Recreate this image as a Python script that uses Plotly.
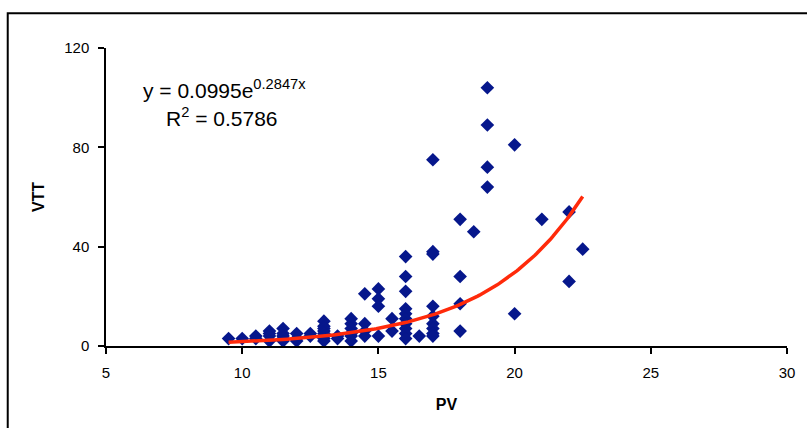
import numpy as np
import plotly.graph_objects as go

# PV / VTT observations
pv = [
    9.5, 10, 10.5, 10.5,
    11, 11, 11, 11,
    11.5, 11.5, 11.5, 11.5, 11.5,
    12, 12, 12, 12.5, 12.5,
    13, 13, 13, 13, 13, 13, 13, 13,
    13.5, 13.5,
    14, 14, 14, 14, 14, 14,
    14.5, 14.5, 14.5, 14.5,
    15, 15, 15, 15,
    15.5, 15.5,
    16, 16, 16, 16, 16, 16, 16, 16, 16, 16,
    16.5,
    17, 17, 17, 17, 17, 17, 17, 17, 17,
    18, 18, 18, 18,
    18.5,
    19, 19, 19, 19,
    20, 20,
    21,
    22, 22,
    22.5,
]
vtt = [
    3, 3, 4, 3,
    6, 5, 4, 2,
    7, 5, 4, 3, 2,
    5, 3, 2, 5, 4,
    10, 8, 7, 6, 5, 4, 3, 2,
    4, 3,
    11, 9, 7, 5, 4, 2,
    21, 9, 6, 4,
    23, 19, 16, 4,
    11, 6,
    36, 28, 22, 15, 13, 11, 9, 7, 5, 3,
    4,
    75, 38, 37, 16, 12, 9, 7, 5, 4,
    51, 28, 17, 6,
    46,
    104, 89, 72, 64,
    81, 13,
    51,
    54, 26,
    39,
]

# Exponential trendline coefficients: y = a * exp(b x)
fit_a = 0.0995
fit_b = 0.2847
fit_r2 = 0.5786

x_fit = np.linspace(min(pv), max(pv), 200)
y_fit = fit_a * np.exp(fit_b * x_fit)

x_ticks = [5, 10, 15, 20, 25, 30]
y_ticks = [0, 40, 80, 120]

fig = go.Figure()
fig.add_trace(go.Scatter(
    x=pv, y=vtt, mode="markers",
    marker=dict(symbol="diamond", size=10.5, color="#06178C", line=dict(width=0)),
    showlegend=False, hoverinfo="x+y",
))
fig.add_trace(go.Scatter(
    x=x_fit, y=y_fit, mode="lines",
    line=dict(color="#FF2A0A", width=3.5),
    showlegend=False, hoverinfo="skip",
))

axis_font = dict(family="Liberation Sans, Arial, sans-serif", size=15, color="#000000")
title_font = dict(family="Liberation Sans, Arial, sans-serif", size=16, color="#000000")

fig.update_xaxes(
    range=[5, 30], tickvals=x_ticks, ticktext=[str(v) for v in x_ticks],
    showline=True, linecolor="#000000", linewidth=1.5,
    ticks="outside", ticklen=6, tickwidth=1.5, tickcolor="#000000",
    showgrid=False, zeroline=False, tickfont=axis_font,
    ticklabelstandoff=6,
    title=dict(text="<b>PV</b>", font=title_font, standoff=19),
)
fig.update_yaxes(
    range=[0, 120], tickvals=y_ticks, ticktext=[str(v) for v in y_ticks],
    showline=True, linecolor="#000000", linewidth=1.5,
    ticks="outside", ticklen=6, tickwidth=1.5, tickcolor="#000000",
    showgrid=False, zeroline=False, tickfont=axis_font,
    ticklabelstandoff=6,
    title=dict(text="<b>VTT</b>", font=title_font, standoff=16),
)

eq_font = dict(family="Liberation Sans, Arial, sans-serif", size=21, color="#000000")
fig.add_annotation(
    xref="paper", yref="paper", x=0.0515, y=0.862, xanchor="left", yanchor="middle",
    text=f"y = {fit_a}e<sup>{fit_b}x</sup>", showarrow=False, font=eq_font,
)
fig.add_annotation(
    xref="paper", yref="paper", x=0.0855, y=0.768, xanchor="left", yanchor="middle",
    text=f"R<sup>2</sup> = {fit_r2}", showarrow=False, font=eq_font,
)

# Chart border (runs off the right and bottom of the page)
fig.add_shape(
    type="rect", xref="paper", yref="paper",
    x0=-0.1443, y0=-0.30, x1=1.05, y1=1.117,
    line=dict(color="#000000", width=2), fillcolor="rgba(0,0,0,0)", layer="below",
)

fig.update_layout(
    width=807, height=428,
    margin=dict(l=106, r=15, t=48, b=82),
    paper_bgcolor="#FFFFFF", plot_bgcolor="#FFFFFF",
    font=axis_font,
)

fig.write_html("out.html")
